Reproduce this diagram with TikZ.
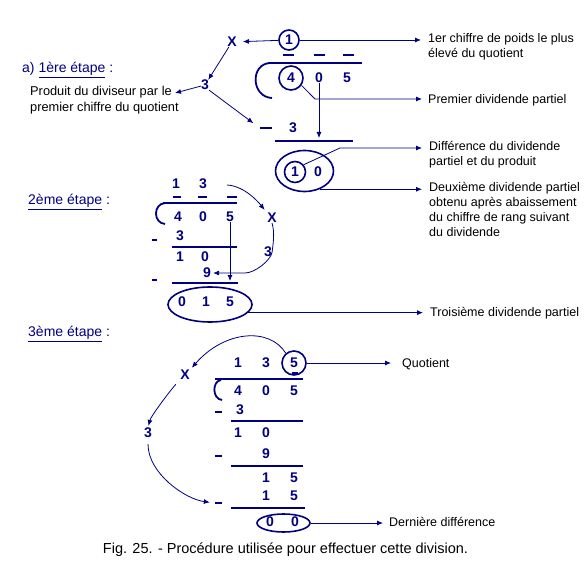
\documentclass[tikz,border=0pt]{standalone}
\usepackage{fontspec}
\setmainfont{Liberation Sans}
\usetikzlibrary{arrows.meta, shapes.geometric}
\definecolor{divblue}{RGB}{0,0,128}
\tikzset{
  digit/.style={font=\fontsize{14}{16}\selectfont\bfseries, text=divblue, inner sep=0pt},
  ring/.style={draw=divblue, line width=1.6pt, circle, minimum size=#1, inner sep=0pt},
  ring/.default=20pt,
  oval/.style={draw=divblue, line width=1.6pt, ellipse, inner sep=0pt},
  bar/.style={draw=divblue, line width=1.8pt},
  minus/.style={fill=divblue, inner sep=0pt, minimum height=2.6pt, minimum width=#1},
  link/.style={draw=divblue, line width=0.8pt, -{Latex[length=6pt,width=5pt]}},
  wire/.style={draw=divblue, line width=0.8pt},
  note/.style={font=\fontsize{12.5}{15}\selectfont, align=left, inner sep=0pt, anchor=north west},
  stage/.style={font=\fontsize{14}{17}\selectfont, text=divblue, inner sep=0pt, anchor=west},
}
\begin{document}
\begin{tikzpicture}[x=1pt, y=-1pt]
\useasboundingbox (0,0) rectangle (586,564);
%
% a) 1ere etape
\node[stage] (st1) at (22,70) {a) \underline{1ère étape} :};
\node[digit] (x1) at (232,42) {X};
\node[digit, ring=20pt] (q1) at (289,40) {1};
\draw[bar] (283,55) -- (294,55);
\draw[bar] (314,55) -- (325,55);
\draw[bar] (343,55) -- (354,55);
\draw[bar] (268,63) -- (362,63);
\draw[bar] (270,63) .. controls (250,64) and (251,97) .. (272,98);
\node[digit, ring=24pt] (d4) at (291,78) {4};
\node[digit] (d0) at (319,78) {0};
\node[digit] (d5) at (347,78) {5};
\node[digit] (p3) at (205,85) {3};
\node[minus=12pt] (m1) at (266,128) {};
\node[digit] (s3) at (293,128) {3};
\draw[bar] (275,141) -- (353,141);
\node[oval, minimum width=58pt, minimum height=41pt] (e10) at (304.5,171) {};
\node[digit, ring=21pt] (r1) at (295,172) {1};
\node[digit] (r0) at (318,172) {0};
%
\node[note, font=\fontsize{12.8}{16}\selectfont] (n0) at (30,86) {Produit du diviseur par le\\premier chiffre du quotient};
\node[note] (n1) at (428,33.5) {1er chiffre de poids le plus\\élevé du quotient};
\node[note, anchor=west] (n2) at (428,100) {Premier dividende partiel};
\node[note] (n3) at (429,141.5) {Différence du dividende\\partiel et du produit};
\node[note] (n4) at (429,182) {Deuxième dividende partiel\\obtenu après abaissement\\du chiffre de rang suivant\\du dividende};
%
\coordinate (e0) at (175,93);
\coordinate (t0) at (319,138);
\coordinate (k1) at (315,99);
\coordinate (k2) at (340,148);
\draw[link, shorten >=6pt] (q1) -- (x1);
\draw[link] (x1) -- (p3);
\draw[link] (p3) -- (e0);
\draw[link, shorten >=8pt] (p3.south east) -- (m1.west);
\draw[link] (d0) -- (t0);
\draw[link, shorten >=7pt] (q1.east) -- (q1.east -| n1.west);
\draw[link, shorten >=6pt] (d4.-35) -- (k1) -- (k1 -| n2.west);
\draw[link, shorten >=7pt] (r1.40) -- (k2) -- (k2 -| n3.west);
\draw[link, shorten >=7pt] (e10.-50) -- (e10.-50 -| n4.west);
%
% 2eme etape
\node[stage] (st2) at (28,202) {\underline{2ème étape} :};
\node[digit] (q21) at (176,184) {1};
\node[digit] (q22) at (203,184) {3};
\draw[bar] (173,197) -- (181,197);
\draw[bar] (198,197) -- (207,197);
\draw[bar] (227,197) -- (237,197);
\draw[bar] (163,203) -- (237,203);
\draw[bar] (165,203) .. controls (153,204) and (153,223) .. (165,224);
\node[digit] (a4) at (178,217) {4};
\node[digit] (a0) at (203,217) {0};
\node[digit] (a5) at (230,217) {5};
\node[digit] (x2) at (272,218) {X};
\node[minus=5pt] (m21) at (154,240) {};
\node[digit] (b3) at (180,236) {3};
\draw[bar] (172,247) -- (237,247);
\node[digit] (c1) at (180,257) {1};
\node[digit] (c0) at (205,257) {0};
\node[digit] (n9) at (207,273) {9};
\node[digit] (t23) at (268,252) {3};
\node[minus=5pt] (m22) at (154,280) {};
\draw[bar] (172,283) -- (238,283);
\node[oval, minimum width=84pt, minimum height=35pt] (e015) at (210,304.5) {};
\node[digit] (f0) at (182,302) {0};
\node[digit] (f1) at (206,302) {1};
\node[digit] (f5) at (230,302) {5};
\node[note, anchor=west] (n5) at (430,313) {Troisième dividende partiel};
%
\coordinate (u2) at (227,185);
\coordinate (k3) at (245,273);
\coordinate (t5) at (230,281);
\draw[link, shorten >=4pt] (u2) .. controls +(18,1) and +(-8,-10) .. (x2.north west);
\draw[link, shorten >=2pt] (x2.south) .. controls +(3,10) and +(1,-8) .. (t23.east)
   .. controls +(-1,8) and +(10,0) .. (k3) -- (n9.east);
\draw[link] (a5) -- (t5);
\draw[link, shorten >=7pt] (e015.-12) -- (e015.-12 -| n5.west);
%
% 3eme etape
\node[stage] (st3) at (28,334) {\underline{3ème étape} :};
\node[digit] (q31) at (238,363) {1};
\node[digit] (q32) at (266,363) {3};
\node[digit, ring=24pt] (q33) at (294,363) {5};
\draw[bar] (292,373) -- (298,373);
\draw[bar] (215,379) -- (303,379);
\draw[bar] (221,380) .. controls (212,381) and (212,399) .. (222,400);
\node[digit] (g4) at (238,391) {4};
\node[digit] (g0) at (266,391) {0};
\node[digit] (g5) at (294,391) {5};
\node[minus=7pt] (m31) at (218.5,412) {};
\node[digit] (h3) at (240,410) {3};
\draw[bar] (231,421) -- (303,421);
\node[digit] (i1) at (238,433) {1};
\node[digit] (i0) at (266,433) {0};
\node[minus=7pt] (m32) at (218.5,456) {};
\node[digit] (j9) at (266,454) {9};
\draw[bar] (231,466) -- (303,466);
\node[digit] (k15a) at (266,478) {1};
\node[digit] (k15b) at (294,478) {5};
\node[digit] (l15a) at (266,496) {1};
\node[digit] (l15b) at (294,496) {5};
\node[minus=7pt] (m33) at (218.5,503) {};
\draw[bar] (231,508) -- (305,508);
\node[oval, minimum width=53pt, minimum height=18pt] (e00) at (283.5,523) {};
\node[digit] (o1) at (270,522) {0};
\node[digit] (o2) at (295,522) {0};
\node[digit] (x3) at (185,375) {X};
\node[digit] (t33) at (148,433) {3};
\node[note, anchor=west] (n6) at (402,364) {Quotient};
\node[note, anchor=west] (n7) at (389,522) {Dernière différence};
%
\draw[link, shorten >=3pt] (q33.130) .. controls +(-16,-26) and +(35,-40) .. (x3.north east);
\draw[link, shorten <=6pt, shorten >=2pt] (x3.south west) .. controls +(-8,8) and +(3,-12) .. (t33.north);
\draw[link, shorten <=6pt, shorten >=5pt] (t33.south) .. controls +(0,35) and +(-30,-4) .. (m33.west);
\draw[link, shorten >=11pt] (q33.east) -- (q33.east -| n6.west);
\draw[link, shorten >=6pt] (e00.east) -- (e00.east -| n7.west);
%
\node[font=\fontsize{14.5}{16}\selectfont] (cap) at (285.5,550) {Fig. 25. - Procédure utilisée pour effectuer cette division.};
\end{tikzpicture}
\end{document}
